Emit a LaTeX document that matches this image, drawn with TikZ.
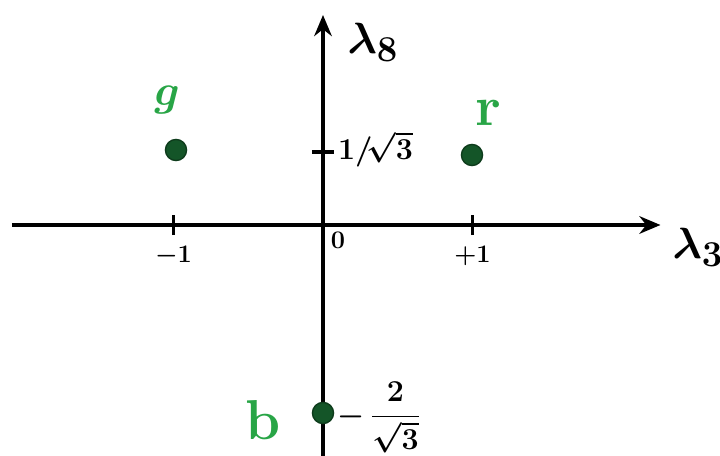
\documentclass[tikz,border=0pt]{standalone}
\usepackage{amsmath}
\usetikzlibrary{arrows.meta}
\definecolor{dotgreen}{RGB}{20,85,40}
\definecolor{labgreen}{RGB}{40,165,70}
\tikzset{
  axis/.style={line width=2.1pt, -{Stealth[length=12pt,width=10pt]}},
  tick/.style={line width=1.8pt},
  weight/.style={circle, fill=dotgreen, draw=dotgreen!70!black, line width=0.8pt, inner sep=0pt, minimum size=12pt},
  colour/.style={text=labgreen, font=\fontsize{32}{32}\selectfont\bfseries},
  ticklab/.style={font=\fontsize{15}{15}\selectfont},
}
\begin{document}
\begin{tikzpicture}
            \useasboundingbox (-6.46,-4.62) rectangle (7.94,4.5);

            \coordinate (O) at (0,0);
            \coordinate (xl) at (-6.22,0);
            \coordinate (xr) at (6.75,0);
            \coordinate (yb) at (0,-4.7);
            \coordinate (yt) at (0,4.2);

            \draw[axis] (xl) -- (xr);
            \draw[axis] (yb) -- (yt);

            \node[font=\fontsize{30}{30}\selectfont] (l3) at (7.5,-0.45) {$\boldsymbol{\lambda_3}$};
            \node[font=\fontsize{28}{28}\selectfont] (l8) at (1.0,3.65) {$\boldsymbol{\lambda_8}$};

            \foreach \k/\lab in {-1/-1,1/+1} {
                    \draw[tick] (2.99*\k,-0.2) -- (2.99*\k,0.2);
                    \node[ticklab] (t\k) at (2.99*\k,-0.62) {$\boldsymbol{\lab}$};
                }
            \node[ticklab] (t0) at (0.3,-0.3) {$\boldsymbol{0}$};

            \draw[tick] (-0.22,1.46) -- (0.22,1.46);
            \node[ticklab, font=\fontsize{17}{17}\selectfont] (s1) at (1.05,1.52) {$\boldsymbol{1/\!\sqrt{3}}$};
            \node[ticklab, font=\fontsize{18}{18}\selectfont] (s2) at (1.12,-3.85) {$\boldsymbol{-\,\dfrac{2}{\sqrt{3}}}$};

            \node[weight] (g) at (-2.94,1.5) {};
            \node[weight] (r) at (2.98,1.4) {};
            \node[weight] (b) at (0,-3.76) {};

            \node[colour] (gl) at (-3.12,2.5) {$\boldsymbol{g}$};
            \node[colour] (rl) at (3.3,2.25) {r};
            \node[colour] (bl) at (-1.2,-3.9) {b};
        \end{tikzpicture}
\end{document}
